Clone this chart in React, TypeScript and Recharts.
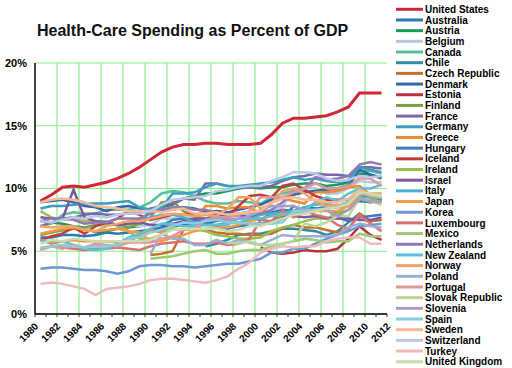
import React from 'react'
import { LineChart, Line, XAxis, YAxis, CartesianGrid } from 'recharts'

const YEARS = [1980, 1981, 1982, 1983, 1984, 1985, 1986, 1987, 1988, 1989, 1990, 1991, 1992, 1993, 1994, 1995,
  1996, 1997, 1998, 1999, 2000, 2001, 2002, 2003, 2004, 2005, 2006, 2007, 2008, 2009, 2010, 2011]
const AXIS_YEARS = [1980, 1981, 1982, 1983, 1984, 1985, 1986, 1987, 1988, 1989, 1990, 1991, 1992, 1993, 1994, 1995,
  1996, 1997, 1998, 1999, 2000, 2001, 2002, 2003, 2004, 2005, 2006, 2007, 2008, 2009, 2010, 2011, 2012]
const GRID_YEARS = [1982, 1984, 1986, 1988, 1990, 1992, 1994, 1996, 1998, 2000, 2002, 2004, 2006, 2008, 2010]
const PCT_TICKS = [0, 5, 10, 15, 20]

const _ = null
// % of GDP, 1980..2011
const unitedStates = [9.0, 9.5, 10.1, 10.2, 10.1, 10.3, 10.5, 10.8, 11.2, 11.7, 12.3, 12.9, 13.3, 13.5, 13.5, 13.6, 13.6, 13.5, 13.5, 13.5, 13.6, 14.3, 15.2, 15.6, 15.6, 15.7, 15.8, 16.1, 16.5, 17.6, 17.6, 17.6]
const australia = [6.1, 6.1, 6.3, 6.3, 6.2, 6.3, 6.5, 6.4, 6.5, 6.6, 6.7, 6.9, 7.0, 7.1, 7.1, 7.2, 7.4, 7.5, 7.6, 7.7, 8.0, 8.1, 8.3, 8.2, 8.5, 8.4, 8.5, 8.5, 8.7, 9.0, 8.9, 9.1]
const austria = [7.4, 7.3, 7.2, 7.0, 6.9, 6.5, 6.6, 6.8, 6.9, 7.0, 8.4, 8.5, 8.7, 9.2, 9.4, 9.6, 9.6, 9.8, 10.0, 10.1, 10.0, 10.1, 10.1, 10.3, 10.4, 10.4, 10.2, 10.3, 10.5, 11.2, 11.1, 10.8]
const belgium = [6.3, 6.6, 6.6, 6.8, 6.8, 7.0, 7.1, 7.1, 7.1, 7.0, 7.1, 7.6, 7.6, 7.7, 7.6, 7.6, 7.9, 7.7, 7.8, 7.9, 8.1, 8.3, 8.5, 10.0, 10.1, 10.0, 9.6, 9.6, 10.0, 10.6, 10.5, 10.5]
const canada = [7.0, 7.2, 7.9, 8.1, 8.0, 8.0, 8.3, 8.3, 8.3, 8.5, 8.9, 9.6, 9.8, 9.7, 9.4, 9.0, 8.8, 8.8, 9.0, 8.9, 8.8, 9.3, 9.6, 9.8, 9.8, 9.8, 10.0, 10.0, 10.3, 11.4, 11.4, 11.2]
const chile = [_, _, _, _, _, _, _, _, _, _, _, _, _, _, _, 5.4, 5.6, 5.9, 6.3, 6.4, 6.4, 6.6, 6.8, 6.8, 6.7, 6.6, 6.3, 6.6, 7.3, 8.0, 7.4, 7.5]
const czechRepublic = [_, _, _, _, _, _, _, _, _, _, 4.7, 4.8, 5.0, 6.7, 6.9, 6.7, 6.5, 6.4, 6.4, 6.3, 6.3, 6.4, 6.8, 7.1, 6.9, 6.9, 6.7, 6.5, 6.8, 8.0, 7.4, 7.5]
const denmark = [8.9, 9.0, 9.1, 8.9, 8.6, 8.5, 8.2, 8.5, 8.6, 8.4, 8.3, 8.3, 8.3, 8.5, 8.4, 8.1, 8.2, 8.1, 8.3, 8.5, 8.7, 9.1, 9.3, 9.5, 9.7, 9.8, 9.9, 10.0, 10.2, 11.5, 11.1, 10.9]
const estonia = [_, _, _, _, _, _, _, _, _, _, _, _, _, _, _, _, _, _, _, _, 5.3, 4.9, 4.8, 4.9, 5.1, 5.0, 5.0, 5.2, 6.0, 7.0, 6.3, 5.9]
const finland = [6.3, 6.5, 6.7, 6.8, 6.9, 7.1, 7.2, 7.1, 6.9, 7.2, 7.7, 8.9, 9.0, 8.2, 7.8, 7.9, 8.0, 7.5, 7.2, 7.2, 7.2, 7.4, 7.8, 8.2, 8.2, 8.4, 8.3, 8.0, 8.3, 9.2, 8.9, 9.0]
const france = [7.0, 7.3, 7.6, 7.7, 7.9, 8.0, 7.9, 7.9, 8.0, 8.1, 8.4, 8.6, 8.8, 9.2, 9.1, 10.4, 10.4, 10.2, 10.1, 10.1, 10.1, 10.2, 10.6, 10.9, 11.0, 11.2, 11.1, 11.1, 11.0, 11.7, 11.7, 11.6]
const germany = [8.4, 8.6, 8.6, 8.7, 8.8, 8.8, 8.8, 8.9, 9.0, 8.5, 8.3, 8.4, 9.6, 9.6, 9.7, 10.1, 10.4, 10.2, 10.2, 10.3, 10.4, 10.5, 10.7, 10.9, 10.7, 10.8, 10.6, 10.5, 10.7, 11.7, 11.5, 11.3]
const greece = [5.9, 5.6, 5.8, 5.9, 5.8, 5.8, 5.8, 5.7, 5.7, 6.3, 6.7, 6.5, 7.1, 7.4, 7.4, 8.6, 8.6, 8.4, 8.5, 8.5, 8.0, 8.9, 9.2, 9.0, 8.8, 9.7, 9.7, 9.8, 10.1, 10.2, 9.5, 9.1]
const hungary = [_, _, _, _, _, _, _, _, _, _, _, 7.0, 7.5, 7.6, 7.5, 7.3, 7.0, 6.8, 7.0, 7.1, 7.2, 7.2, 7.6, 8.6, 8.2, 8.4, 8.3, 7.7, 7.4, 7.7, 7.8, 7.9]
const iceland = [5.9, 6.2, 6.4, 6.9, 6.4, 7.0, 7.3, 7.6, 8.2, 7.9, 7.5, 7.7, 7.9, 7.9, 7.9, 8.0, 7.9, 7.7, 8.6, 9.4, 9.5, 9.3, 10.2, 10.4, 9.9, 9.4, 9.1, 9.1, 9.1, 9.6, 9.3, 9.1]
const ireland = [8.2, 7.7, 7.5, 7.6, 7.4, 7.4, 7.4, 7.1, 6.6, 6.0, 6.0, 6.3, 6.8, 6.7, 6.8, 6.6, 6.3, 6.2, 6.0, 6.0, 6.1, 6.6, 6.9, 7.1, 7.4, 7.6, 7.6, 8.0, 9.1, 10.0, 9.2, 8.9]
const israel = [7.7, 7.6, 7.6, 9.9, 7.7, 7.4, 7.3, 7.1, 7.2, 7.3, 7.1, 7.1, 7.2, 7.4, 7.6, 7.6, 7.8, 7.8, 7.9, 7.7, 7.5, 8.0, 7.9, 7.8, 7.7, 7.8, 7.6, 7.6, 7.6, 7.5, 7.5, 7.7]
const italy = [_, _, _, _, _, _, _, _, 7.4, 7.5, 7.7, 7.9, 7.9, 7.7, 7.3, 7.1, 7.1, 7.3, 7.3, 7.5, 7.9, 8.0, 8.1, 8.2, 8.5, 8.7, 8.8, 8.6, 8.9, 9.3, 9.3, 9.2]
const japan = [6.4, 6.6, 6.8, 6.9, 6.7, 6.6, 6.7, 6.8, 6.6, 6.5, 5.8, 5.8, 6.1, 6.3, 6.6, 6.8, 6.9, 6.9, 7.1, 7.4, 7.6, 7.8, 7.9, 8.0, 8.0, 8.2, 8.2, 8.2, 8.6, 9.5, 9.6, 9.6]
const korea = [3.6, 3.7, 3.7, 3.6, 3.5, 3.5, 3.4, 3.2, 3.4, 3.8, 3.9, 3.9, 3.8, 3.8, 3.7, 3.8, 3.9, 4.0, 4.0, 4.2, 4.4, 4.9, 4.9, 5.2, 5.2, 5.6, 6.0, 6.3, 6.6, 7.0, 7.1, 7.2]
const luxembourg = [5.2, 5.4, 5.3, 5.2, 5.1, 5.2, 5.2, 5.3, 5.2, 5.1, 5.4, 5.6, 5.7, 5.8, 5.6, 5.6, 5.7, 5.5, 5.6, 6.0, 7.5, 7.4, 8.3, 7.7, 8.2, 7.9, 7.7, 7.1, 6.8, 7.9, 7.2, 6.6]
const mexico = [_, _, _, _, _, _, _, _, _, _, 4.4, 4.5, 4.6, 4.8, 5.0, 5.1, 4.8, 4.8, 5.0, 5.1, 5.1, 5.4, 5.6, 5.8, 6.0, 5.9, 5.7, 5.8, 5.8, 6.4, 6.2, 6.2]
const netherlands = [7.4, 7.6, 7.6, 7.5, 7.2, 7.3, 7.3, 7.6, 7.6, 7.6, 8.0, 8.3, 8.5, 8.5, 8.3, 8.3, 8.1, 7.9, 8.0, 8.1, 8.0, 8.3, 8.9, 9.8, 10.0, 10.9, 10.7, 10.8, 11.0, 11.9, 12.1, 11.9]
const newZealand = [5.9, 5.8, 5.8, 5.5, 5.2, 5.1, 5.2, 5.6, 6.1, 6.4, 6.8, 7.2, 7.2, 7.0, 7.0, 7.1, 7.1, 7.1, 7.6, 7.6, 7.6, 7.8, 8.0, 7.9, 8.3, 8.9, 9.3, 9.0, 9.6, 10.0, 10.0, 10.3]
const norway = [7.0, 6.9, 7.0, 7.0, 6.7, 6.6, 7.0, 7.2, 7.4, 7.4, 7.6, 7.8, 8.0, 7.9, 7.8, 7.9, 7.8, 8.4, 9.3, 9.3, 8.4, 8.8, 9.8, 10.0, 9.6, 9.0, 8.6, 8.7, 8.6, 9.8, 9.4, 9.3]
const poland = [_, _, _, _, _, _, _, _, _, _, 4.8, 6.4, 6.0, 6.0, 5.5, 5.5, 5.9, 5.6, 5.9, 5.7, 5.5, 5.9, 6.3, 6.2, 6.2, 6.2, 6.2, 6.3, 6.9, 7.2, 7.0, 6.9]
const portugal = [5.1, 5.4, 5.2, 5.5, 5.3, 5.6, 5.5, 5.4, 5.7, 5.7, 5.7, 6.0, 6.2, 6.7, 6.8, 7.5, 7.7, 7.7, 7.9, 8.2, 9.3, 9.3, 9.3, 9.7, 10.0, 10.4, 10.0, 10.0, 10.2, 10.8, 10.8, 10.2]
const slovakRepublic = [_, _, _, _, _, _, _, _, _, _, _, _, _, _, _, _, _, 5.7, 5.6, 5.8, 5.5, 5.5, 5.6, 5.8, 7.2, 7.0, 7.3, 7.8, 7.8, 9.2, 9.0, 8.7]
const slovenia = [_, _, _, _, _, _, _, _, _, _, _, _, _, _, _, 7.5, 7.6, 7.5, 7.6, 7.8, 8.3, 8.6, 8.6, 8.6, 8.3, 8.3, 8.3, 7.8, 8.3, 9.2, 9.0, 8.9]
const spain = [5.3, 5.4, 5.5, 5.4, 5.3, 5.4, 5.4, 5.5, 6.0, 6.1, 6.5, 6.7, 7.0, 7.3, 7.2, 7.4, 7.5, 7.3, 7.3, 7.2, 7.2, 7.2, 7.3, 8.2, 8.2, 8.3, 8.4, 8.5, 8.9, 9.6, 9.6, 9.3]
const sweden = [8.9, 9.1, 9.2, 9.1, 8.9, 8.6, 8.5, 8.4, 8.2, 8.2, 8.2, 8.1, 8.3, 8.4, 8.0, 8.0, 8.1, 7.9, 8.0, 8.1, 8.2, 8.9, 9.2, 9.3, 9.1, 9.1, 8.9, 8.9, 9.2, 9.9, 9.5, 9.5]
const switzerland = [7.4, 7.3, 7.5, 7.7, 7.6, 7.8, 7.7, 7.9, 8.0, 8.0, 8.2, 8.7, 9.1, 9.2, 9.3, 9.4, 9.8, 9.9, 10.1, 10.2, 10.2, 10.6, 10.9, 11.3, 11.3, 11.2, 10.8, 10.6, 10.7, 11.0, 10.9, 11.0]
const turkey = [2.4, 2.5, 2.4, 2.2, 2.0, 1.5, 2.0, 2.1, 2.2, 2.4, 2.7, 2.8, 2.8, 2.7, 2.6, 2.5, 2.7, 3.0, 3.6, 4.1, 4.9, 5.2, 5.4, 5.3, 5.4, 5.4, 5.8, 6.0, 6.1, 6.1, 5.6, 5.6]
const unitedKingdom = [5.6, 5.9, 5.8, 6.0, 5.9, 5.8, 5.8, 5.8, 5.8, 5.8, 5.9, 6.3, 6.7, 6.8, 6.8, 6.8, 6.8, 6.6, 6.7, 7.0, 7.0, 7.3, 7.6, 7.9, 8.0, 8.2, 8.4, 8.5, 8.8, 9.7, 9.6, 9.4]

const COUNTRIES = ['United States', 'Australia', 'Austria', 'Belgium', 'Canada', 'Chile', 'Czech Republic', 'Denmark',
  'Estonia', 'Finland', 'France', 'Germany', 'Greece', 'Hungary', 'Iceland', 'Ireland', 'Israel', 'Italy', 'Japan',
  'Korea', 'Luxembourg', 'Mexico', 'Netherlands', 'New Zealand', 'Norway', 'Poland', 'Portugal', 'Slovak Republic',
  'Slovenia', 'Spain', 'Sweden', 'Switzerland', 'Turkey', 'United Kingdom']
const VALUES = [unitedStates, australia, austria, belgium, canada, chile, czechRepublic, denmark, estonia, finland,
  france, germany, greece, hungary, iceland, ireland, israel, italy, japan, korea, luxembourg, mexico, netherlands,
  newZealand, norway, poland, portugal, slovakRepublic, slovenia, spain, sweden, switzerland, turkey, unitedKingdom]
const COLORS = ['#d22637', '#2878b5', '#1a9a5a', '#b4c8e8', '#5bbf9f', '#2f8ba0', '#c8702a', '#3366aa',
  '#b8333a', '#7aa23c', '#7d66a6', '#3a9fbe', '#ec8a33', '#3f78be', '#c23b3b', '#96c151', '#7b56a3', '#4bb1cd',
  '#f39a45', '#6f97d2', '#d8716f', '#a0c774', '#9079b5', '#5ec0d4', '#f7a265', '#98afd8', '#df9899', '#bcd69a',
  '#aa9bc8', '#8ccbe0', '#f9b994', '#bcc8e6', '#ecbcbc', '#cadcb0']

// each value sits in the middle of its year
const rows = YEARS.map((yr, i) => {
  const row: Record<string, number | null> = { x: yr + 0.5 }
  COUNTRIES.forEach((c, k) => { row[c] = VALUES[k][i] })
  return row
})

const FONT = '"Liberation Sans", Arial, Helvetica, sans-serif'
const GRID = '#86f086'

function YearTick({ x, y, payload }: any) {
  if (payload.value % 2 !== 0) return <g />
  const ex = x + 4
  const ey = y + 8
  return (
    <text x={ex} y={ey} textAnchor="end" transform={`rotate(-45 ${ex} ${ey})`}
      fontSize={10} fontWeight="bold" fontFamily={FONT} fill="#000">
      {payload.value}
    </text>
  )
}

function LegendList() {
  return (
    <svg width={118} height={368} style={{ position: 'absolute', left: 394, top: 0 }}>
      {COUNTRIES.map((c, i) => {
        const cy = 9.3 + i * 10.68
        return (
          <g key={c}>
            <line x1={2} x2={29} y1={cy} y2={cy} stroke={COLORS[i]} strokeWidth={3} />
            <text x={31} y={cy + 3.6} fontSize={10} fontWeight="bold" fontFamily={FONT} fill="#000">{c}</text>
          </g>
        )
      })}
    </svg>
  )
}

export default function App() {
  return (
    <div style={{ position: 'absolute', left: 0, top: 0, width: 512, height: 368, background: '#fff', fontFamily: FONT }}>
      <div style={{ position: 'absolute', left: 37, top: 22.5, fontSize: 16, lineHeight: '16px', fontWeight: 'bold', color: '#111', whiteSpace: 'nowrap' }}>
        Health-Care Spending as Percent of GDP
      </div>
      <LineChart width={512} height={368} data={rows} margin={{ top: 63, right: 125, bottom: 14, left: 0 }}>
        <CartesianGrid stroke={GRID} strokeWidth={1.2}
          verticalCoordinatesGenerator={({ offset }: any) =>
            GRID_YEARS.map(yr => offset.left + ((yr - 1980) / 32) * offset.width)} />
        <XAxis dataKey="x" type="number" domain={[1980, 2012]} ticks={AXIS_YEARS} interval={0}
          height={40} tickSize={3} tickMargin={2} tick={<YearTick />}
          axisLine={{ stroke: '#000', strokeWidth: 1.5 }} tickLine={{ stroke: '#333' }} />
        <XAxis xAxisId="top" orientation="top" dataKey="x" type="number" domain={[1980, 2012]} height={0}
          tick={false} tickLine={false} axisLine={{ stroke: '#000', strokeWidth: 1.5 }} />
        <YAxis domain={[0, 20]} ticks={PCT_TICKS} width={35} tickSize={0} tickMargin={8}
          tickFormatter={(v: number) => `${v}%`}
          tick={{ fontSize: 11, fontWeight: 'bold', fontFamily: FONT, fill: '#000' }}
          axisLine={{ stroke: '#000', strokeWidth: 1.5 }} tickLine={false} />
        <YAxis yAxisId="right" orientation="right" domain={[0, 20]} width={0}
          tick={false} tickLine={false} axisLine={{ stroke: '#000', strokeWidth: 1.5 }} />
        {COUNTRIES.map((c, i) => (
          <Line key={c} type="linear" dataKey={c} stroke={COLORS[i]} strokeWidth={i === 0 ? 3 : 2.5}
            dot={false} connectNulls isAnimationActive={false} />
        ))}
      </LineChart>
      <LegendList />
    </div>
  )
}
